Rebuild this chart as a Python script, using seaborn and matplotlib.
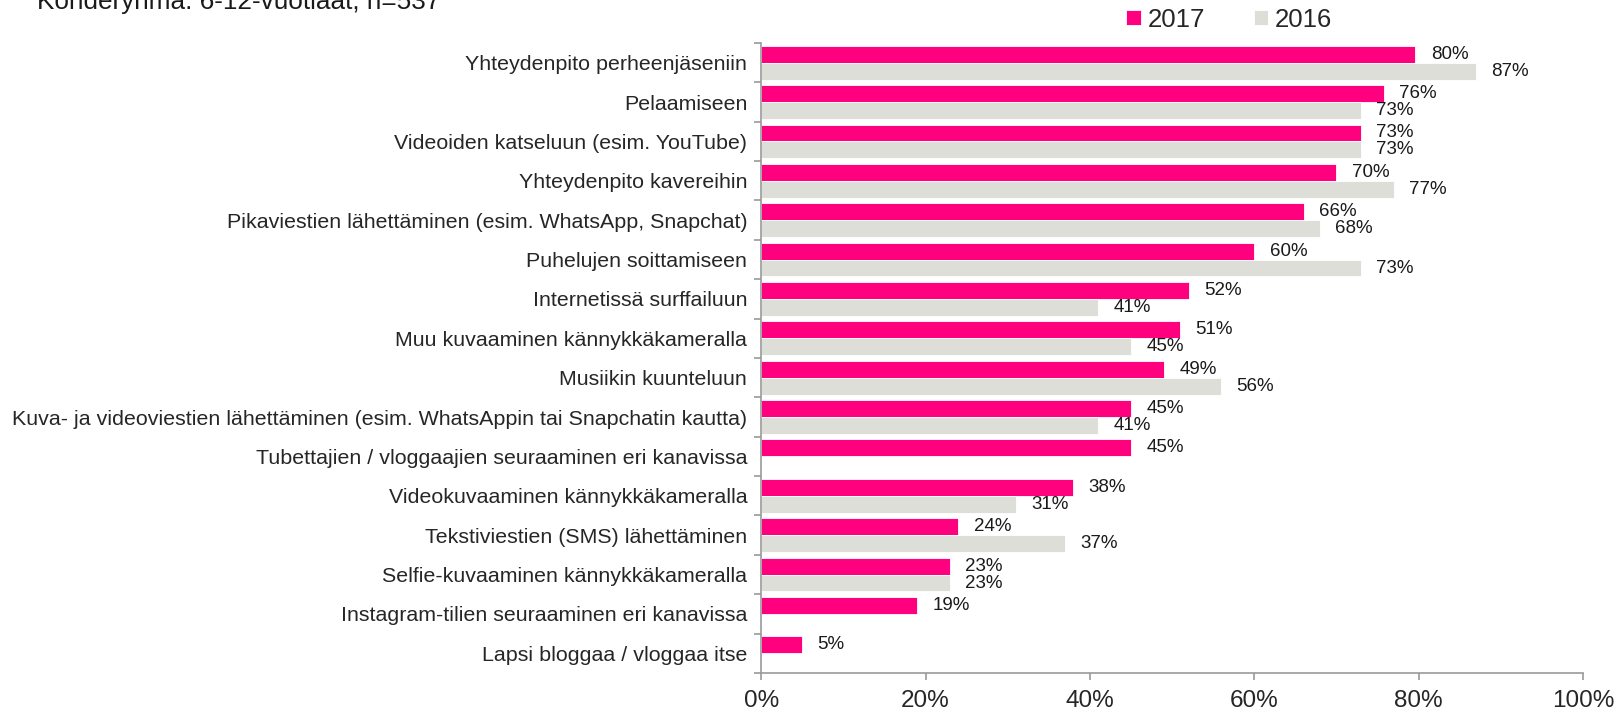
import numpy as np
import pandas as pd
import matplotlib
matplotlib.use("Agg")
import matplotlib.pyplot as plt
import seaborn as sns
from matplotlib.ticker import FixedLocator, PercentFormatter

categories = [
    "Yhteydenpito perheenjäseniin",
    "Pelaamiseen",
    "Videoiden katseluun (esim. YouTube)",
    "Yhteydenpito kavereihin",
    "Pikaviestien lähettäminen (esim. WhatsApp, Snapchat)",
    "Puhelujen soittamiseen",
    "Internetissä surffailuun",
    "Muu kuvaaminen kännykkäkameralla",
    "Musiikin kuunteluun",
    "Kuva- ja videoviestien lähettäminen (esim. WhatsAppin tai Snapchatin kautta)",
    "Tubettajien / vloggaajien seuraaminen eri kanavissa",
    "Videokuvaaminen kännykkäkameralla",
    "Tekstiviestien (SMS) lähettäminen",
    "Selfie-kuvaaminen kännykkäkameralla",
    "Instagram-tilien seuraaminen eri kanavissa",
    "Lapsi bloggaa / vloggaa itse",
]
vals_2017 = [79.6, 75.8, 73, 70, 66, 60, 52, 51, 49, 45, 45, 38, 24, 23, 19, 5]
vals_2016 = [87, 73, 73, 77, 68, 73, 41, 45, 56, 41, np.nan, 31, 37, 23, np.nan, np.nan]
years = ["2017", "2016"]
colors = {"2017": "#FF007F", "2016": "#DEDED9"}
subtitle = "Kohderyhmä: 6-12-vuotiaat, n=537"

df = pd.DataFrame({
    "kategoria": categories * 2,
    "vuosi": ["2017"] * len(categories) + ["2016"] * len(categories),
    "osuus": vals_2017 + vals_2016,
})

sns.set_style("white")
plt.rcParams["font.family"] = ["Liberation Sans", "DejaVu Sans"]

fig = plt.figure(figsize=(16.16, 7.12), dpi=100)
ax = fig.add_axes([0.471, 0.0548, 0.5086, 0.8848])

sns.barplot(data=df, y="kategoria", x="osuus", hue="vuosi", hue_order=years,
            order=categories, palette=colors, orient="h", width=0.86,
            saturation=1, ax=ax, legend=True)

for bar in ax.patches:
    bar.set_edgecolor("white")
    bar.set_linewidth(0.6)

for cont in ax.containers:
    ax.bar_label(cont, fmt="%.0f%%", padding=11, fontsize=13.5, color="#1a1a1a")

ax.set_xlim(0, 100)
ax.set_ylim(len(categories) - 0.5, -0.5)
ax.xaxis.set_major_locator(FixedLocator([0, 20, 40, 60, 80, 100]))
ax.xaxis.set_major_formatter(PercentFormatter(decimals=0))
ax.set_xlabel("")
ax.set_ylabel("")

ax.tick_params(axis="y", which="major", left=True, length=0, pad=10, labelsize=15.4)
ax.yaxis.set_minor_locator(FixedLocator(np.arange(-0.5, len(categories), 1)))
ax.tick_params(axis="y", which="minor", left=True, length=5, width=1.2,
               color="#999999", direction="out")
ax.tick_params(axis="x", which="major", bottom=True, length=5, width=1.2, color="#999999",
               direction="out", pad=7, labelsize=17.5)

for side in ["top", "right"]:
    ax.spines[side].set_visible(False)
for side in ["left", "bottom"]:
    ax.spines[side].set_color("#999999")
    ax.spines[side].set_linewidth(1.2)

leg = ax.legend(loc="center left", bbox_to_anchor=(0.432, 1.037), ncol=2, frameon=False,
                fontsize=18.5, handlelength=0.55, handleheight=0.55, handletextpad=0.27,
                columnspacing=1.9, borderaxespad=0)

fig.text(0.023, 0.988, subtitle, fontsize=18.8, ha="left", va="baseline", color="#1a1a1a")

fig.savefig("out.png", dpi=100)
